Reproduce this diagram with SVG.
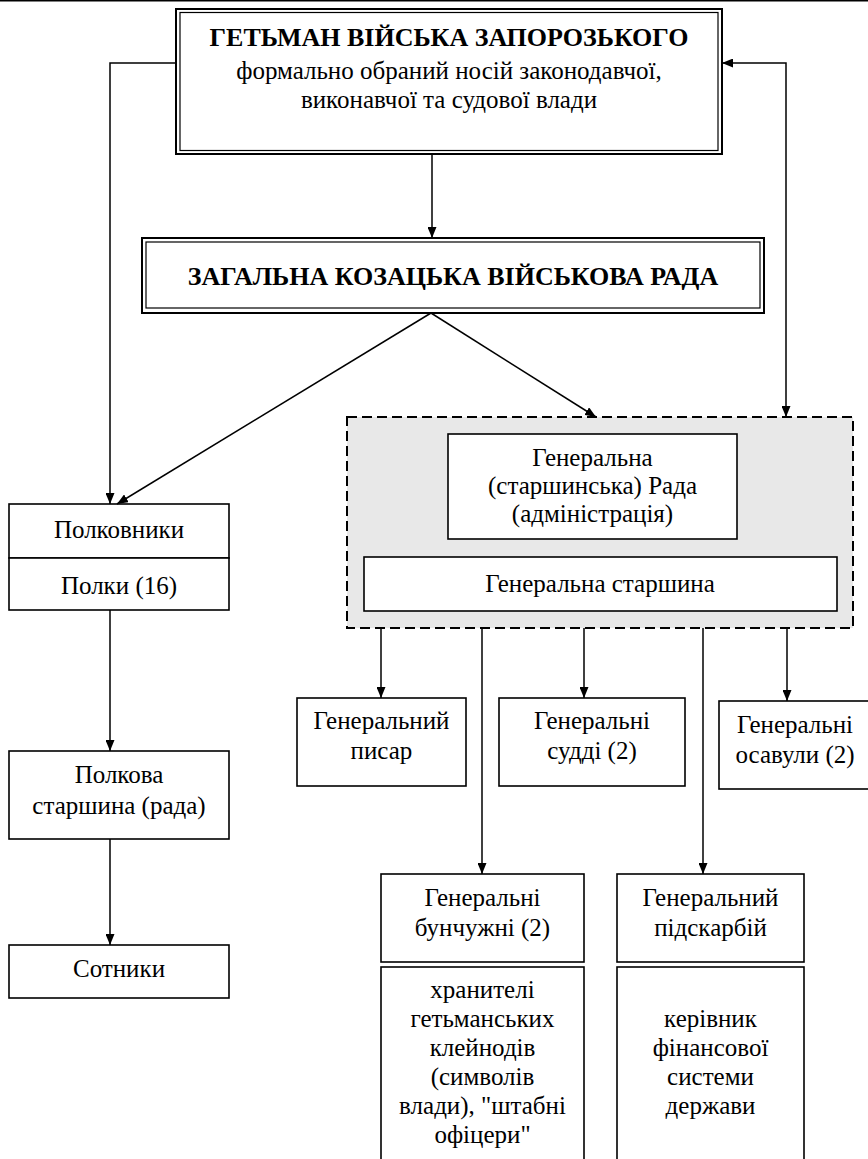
<svg xmlns="http://www.w3.org/2000/svg" width="868" height="1159" viewBox="0 0 868 1159">
<style>
text{font-family:'Liberation Serif','Times New Roman',Tinos,'DejaVu Serif',serif;font-size:25px;text-anchor:middle;fill:#000}
.b{font-weight:bold;font-size:26px}
.box{fill:#fff;stroke:#000;stroke-width:1.6}
.out{fill:#fff;stroke:#000;stroke-width:2}
.in{fill:none;stroke:#000;stroke-width:1.2}
.c{fill:none;stroke:#000;stroke-width:1.5}
</style>
<defs>
<marker id="ah" viewBox="0 0 11 9" refX="11" refY="4.5" markerWidth="11" markerHeight="9" orient="auto-start-reverse" markerUnits="userSpaceOnUse"><path d="M0,0 L11,4.5 L0,9 z" fill="#000"/></marker>
</defs>
<rect width="868" height="1159" fill="#fff"/>
<line x1="0" y1="0.8" x2="868" y2="0.8" stroke="#000" stroke-width="1.6"/>

<g id="hetman">
<rect class="out" x="176" y="9" width="546" height="145"/>
<rect class="in" x="180" y="12.5" width="538" height="138"/>
<text class="b" x="449" y="46">ГЕТЬМАН ВІЙСЬКА ЗАПОРОЗЬКОГО</text>
<text x="449" y="79">формально обраний носій законодавчої,</text>
<text x="449" y="108">виконавчої та судової влади</text>
</g>

<g id="rada">
<rect class="out" x="142" y="238" width="622" height="75"/>
<rect class="in" x="146" y="242" width="614" height="66"/>
<text class="b" x="453" y="285">ЗАГАЛЬНА КОЗАЦЬКА ВІЙСЬКОВА РАДА</text>
</g>

<g id="general-group">
<rect x="347" y="417" width="506" height="211" fill="#e8e8e8" stroke="#000" stroke-width="2" stroke-dasharray="10,5"/>
</g>

<g id="general-rada">
<rect class="box" x="448" y="434" width="289" height="105"/>
<text x="592.5" y="466">Генеральна</text>
<text x="592.5" y="494">(старшинська) Рада</text>
<text x="592.5" y="522">(адміністрація)</text>
</g>

<g id="general-starshyna">
<rect class="box" x="364" y="557" width="473" height="54"/>
<text x="600" y="592">Генеральна старшина</text>
</g>

<g id="polkovnyky">
<rect class="box" x="9" y="504" width="220" height="54"/>
<text x="119" y="538">Полковники</text>
</g>
<g id="polky">
<rect class="box" x="9" y="558" width="220" height="52"/>
<text x="119" y="594">Полки (16)</text>
</g>

<g id="polkova-starshyna">
<rect class="box" x="9" y="751" width="220" height="88"/>
<text x="119" y="783">Полкова</text>
<text x="119" y="814">старшина (рада)</text>
</g>

<g id="sotnyky">
<rect class="box" x="9" y="945" width="220" height="53"/>
<text x="119" y="977">Сотники</text>
</g>

<g id="pysar">
<rect class="box" x="297" y="698" width="169" height="88"/>
<text x="381.5" y="729">Генеральний</text>
<text x="381.5" y="759">писар</text>
</g>

<g id="suddi">
<rect class="box" x="499" y="698" width="186" height="88"/>
<text x="592" y="729">Генеральні</text>
<text x="592" y="759">судді (2)</text>
</g>

<g id="osavuly">
<rect class="box" x="719" y="701" width="153" height="88"/>
<text x="795" y="733">Генеральні</text>
<text x="795" y="763">осавули (2)</text>
</g>

<g id="bunchuzhni">
<rect class="box" x="381" y="874" width="203" height="88"/>
<text x="482.5" y="906">Генеральні</text>
<text x="482.5" y="936">бунчужні (2)</text>
</g>

<g id="pidskarbiy">
<rect class="box" x="617" y="874" width="187" height="88"/>
<text x="710.5" y="906">Генеральний</text>
<text x="710.5" y="936">підскарбій</text>
</g>

<g id="bunchuzhni-desc">
<rect class="box" x="381" y="967" width="203" height="200"/>
<text x="482.5" y="998">хранителі</text>
<text x="482.5" y="1027">гетьманських</text>
<text x="482.5" y="1056">клейнодів</text>
<text x="482.5" y="1085">(символів</text>
<text x="482.5" y="1114">влади), "штабні</text>
<text x="482.5" y="1143">офіцери"</text>
</g>

<g id="pidskarbiy-desc">
<rect class="box" x="617" y="967" width="187" height="200"/>
<text x="710.5" y="1027">керівник</text>
<text x="710.5" y="1056">фінансової</text>
<text x="710.5" y="1085">системи</text>
<text x="710.5" y="1114">держави</text>
</g>

<g id="connectors">
<path class="c" d="M176,63 H110 V504" marker-end="url(#ah)"/>
<path class="c" d="M786,417 V63 H722" marker-start="url(#ah)" marker-end="url(#ah)"/>
<path class="c" d="M432,154 V238" marker-end="url(#ah)"/>
<path class="c" d="M431,313 L117,504" marker-end="url(#ah)"/>
<path class="c" d="M431,313 L596,417" marker-end="url(#ah)"/>
<path class="c" d="M110,610 V751" marker-end="url(#ah)"/>
<path class="c" d="M110,839 V945" marker-end="url(#ah)"/>
<path class="c" d="M381,628 V698" marker-end="url(#ah)"/>
<path class="c" d="M482,628 V874" marker-end="url(#ah)"/>
<path class="c" d="M584,628 V698" marker-end="url(#ah)"/>
<path class="c" d="M703,628 V874" marker-end="url(#ah)"/>
<path class="c" d="M787,628 V701" marker-end="url(#ah)"/>
</g>
</svg>
